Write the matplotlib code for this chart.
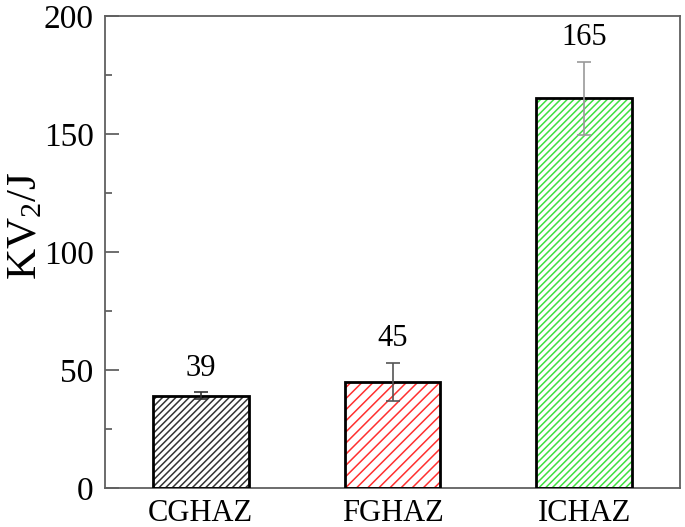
import matplotlib
matplotlib.use("Agg")
import matplotlib.pyplot as plt
import numpy as np

categories = ["CGHAZ", "FGHAZ", "ICHAZ"]
values = [39, 45, 165]
errors = [1.5, 8, 15.5]
hatch_colors = ["#333333", "#ff3030", "#40e040"]
hatches = ["/////", "///", "/////"]
err_colors = ["#333333", "#555555", "#999999"]
y_ticks = [0, 50, 100, 150, 200]

plt.rcParams["font.family"] = ["Liberation Serif", "DejaVu Serif"]
plt.rcParams["mathtext.fontset"] = "custom"
plt.rcParams["mathtext.rm"] = "Liberation Serif"
plt.rcParams["mathtext.it"] = "Liberation Serif"
plt.rcParams["mathtext.bf"] = "Liberation Serif:bold"
plt.rcParams["hatch.linewidth"] = 1.1

fig = plt.figure(figsize=(6.85, 5.27), dpi=100)
ax = fig.add_axes([0.153, 0.074, 0.840, 0.896])

x = np.arange(len(categories))
for i in range(len(categories)):
    ax.bar(x[i], values[i], width=0.5, color="white", edgecolor=hatch_colors[i],
           hatch=hatches[i], linewidth=0, zorder=2)
    ax.bar(x[i], values[i], width=0.5, fill=False, edgecolor="black",
           linewidth=2, zorder=3)
    ax.errorbar(x[i], values[i], yerr=errors[i], fmt="none", ecolor=err_colors[i],
                elinewidth=1.2, capsize=5, capthick=1.2, zorder=4)
    ax.text(x[i], values[i] + errors[i] + 4, str(values[i]), ha="center",
            va="bottom", fontsize=22)

ax.set_xlim(-0.5, 2.5)
ax.set_ylim(0, 200)
ax.set_yticks(y_ticks)
ax.set_yticks(np.arange(25, 200, 50), minor=True)
ax.set_xticks(x)
ax.set_xticklabels(categories)
ax.tick_params(axis="x", length=0, labelsize=22, pad=8)
ax.tick_params(axis="y", which="major", direction="in", length=10, width=1.2,
               color="#555555", labelsize=24, pad=8)
ax.tick_params(axis="y", which="minor", direction="in", length=5, width=1.2,
               color="#555555")
for s in ax.spines.values():
    s.set_color("#606060")
    s.set_linewidth(1.3)
ax.set_ylabel("KV$_2$/J", fontsize=31)
ax.yaxis.set_label_coords(-0.103, 0.555)

fig.savefig("out.png", dpi=100)
